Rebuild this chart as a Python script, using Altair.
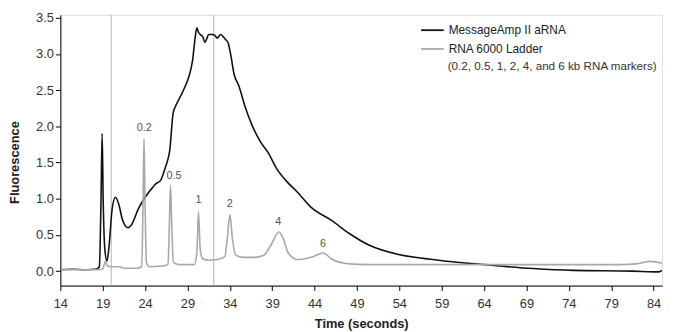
import altair as alt
import pandas as pd

# ---- data ----
arna_t = [14.0, 15.5, 17.0, 18.3, 18.6, 18.8, 18.93, 19.05, 19.25, 19.5, 19.75, 20.1, 20.5, 20.9,
          21.3, 21.7, 22.0, 22.4, 23.2, 24.0, 24.5, 25.3, 25.8, 26.3, 26.7, 26.9, 27.3, 27.6,
          28.2, 28.6, 29.2, 29.6, 29.9, 30.1, 30.3, 30.5, 30.8, 31.05, 31.3, 31.5, 31.95, 32.2,
          32.5, 32.9, 33.2, 33.5, 33.8, 34.1, 34.5, 35.06, 35.8, 36.6, 37.6, 38.5, 39.5, 40.7,
          41.9, 43.6, 46.0, 48.1, 50.4, 53.9, 56.5, 59.3, 64.0, 69.8, 74.5, 81.5, 84.6, 85.0]
arna_v = [0.02, 0.025, 0.02, 0.03, 0.06, 1.0, 1.90, 1.0, 0.3, 0.14, 0.35, 0.85, 1.02, 0.92,
          0.72, 0.62, 0.60, 0.64, 0.86, 1.02, 1.10, 1.21, 1.25, 1.40, 1.55, 1.66, 2.18, 2.28,
          2.42, 2.52, 2.70, 2.91, 3.22, 3.36, 3.30, 3.27, 3.24, 3.16, 3.22, 3.27, 3.27, 3.26,
          3.22, 3.27, 3.24, 3.20, 3.15, 2.99, 2.72, 2.56, 2.27, 2.02, 1.79, 1.64, 1.42, 1.24,
          1.10, 0.88, 0.70, 0.52, 0.36, 0.23, 0.18, 0.14, 0.09, 0.035, 0.01, 0.0, -0.01, 0.01]

ladder_t = [14.0, 16.0, 18.5, 19.0, 19.2, 19.35, 19.5, 20.0, 21.0, 21.5, 23.0, 23.6, 23.75, 23.87,
            24.0, 24.15, 24.5, 26.0, 26.7, 26.85, 27.0, 27.15, 27.35, 28.0, 29.8, 30.1, 30.3,
            30.5, 30.8, 31.5, 32.5, 33.4, 33.7, 34.0, 34.3, 34.7, 35.5, 36.8, 38.0, 38.8, 39.8,
            40.3, 40.9, 42.0, 43.8, 45.0, 46.1, 48.1, 50.4, 60.0, 70.0, 80.0, 81.9, 83.6, 85.0]
ladder_v = [0.02, 0.02, 0.02, 0.03, 0.10, 0.14, 0.08, 0.06, 0.06, 0.04, 0.04, 0.06, 0.9, 1.83,
            0.9, 0.12, 0.06, 0.07, 0.09, 0.6, 1.19, 0.6, 0.12, 0.09, 0.09, 0.25, 0.82,
            0.3, 0.17, 0.15, 0.16, 0.2, 0.45, 0.78, 0.45, 0.22, 0.19, 0.19, 0.22, 0.35, 0.54,
            0.45, 0.25, 0.16, 0.20, 0.25, 0.16, 0.10, 0.09, 0.09, 0.09, 0.09, 0.10, 0.135, 0.11]

marker_t = [23.9, 27.4, 30.3, 34.0, 39.7, 45.0]
marker_v = [1.97, 1.32, 0.98, 0.92, 0.68, 0.37]
marker_text = ["0.2", "0.5", "1", "2", "4", "6"]

vline_t = [20.0, 32.1]

x_ticks = [14, 19, 24, 29, 34, 39, 44, 49, 54, 59, 64, 69, 74, 79, 84]
y_ticks = [0.0, 0.5, 1.0, 1.5, 2.0, 2.5, 3.0, 3.5]

series_names = ["MessageAmp II aRNA", "RNA 6000 Ladder"]
series_colors = ["#111111", "#a8a8a8"]
note_text = "(0.2, 0.5, 1, 2, 4, and 6 kb RNA markers)"

FONT = "Liberation Sans"

# ---- tables ----
lines_df = pd.concat([
    pd.DataFrame({"t": arna_t, "v": arna_v, "series": series_names[0], "o": range(len(arna_t))}),
    pd.DataFrame({"t": ladder_t, "v": ladder_v, "series": series_names[1], "o": range(len(ladder_t))}),
])
markers_df = pd.DataFrame({"t": marker_t, "v": marker_v, "label": marker_text})
vlines_df = pd.DataFrame({"t": vline_t})

x_scale = alt.Scale(domain=[14, 85], nice=False, zero=False)
y_scale = alt.Scale(domain=[-0.2, 3.54], nice=False, zero=False)

x_axis = alt.Axis(values=x_ticks, title="Time (seconds)", grid=False, format="d",
                  labelFontSize=13, labelColor="#333333", labelFont=FONT, labelOverlap=False,
                  tickColor="#000000", domainColor="#000000", tickSize=5, labelPadding=7,
                  titleFont=FONT, titleFontSize=13, titleFontWeight="bold", titleColor="#222222",
                  titlePadding=7, labelFlush=False)
y_axis = alt.Axis(values=y_ticks, title="Fluorescence", grid=False, format=".1f",
                  labelFontSize=13, labelColor="#333333", labelFont=FONT, labelOverlap=False,
                  tickColor="#000000", domainColor="#000000", tickSize=5, labelPadding=2,
                  titleFont=FONT, titleFontSize=13, titleFontWeight="bold", titleColor="#222222",
                  titleX=-46, titleY=149, titleBaseline="middle", titleAngle=-90)

vlines = alt.Chart(vlines_df).mark_rule(color="#b5b5b5", strokeWidth=1).encode(
    x=alt.X("t:Q", scale=x_scale, axis=x_axis)
)

lines = alt.Chart(lines_df).mark_line(interpolate="monotone", strokeWidth=1.6, clip=True).encode(
    x=alt.X("t:Q", scale=x_scale, axis=x_axis),
    y=alt.Y("v:Q", scale=y_scale, axis=y_axis),
    order="o:Q",
    color=alt.Color("series:N",
                    scale=alt.Scale(domain=series_names, range=series_colors),
                    legend=alt.Legend(orient="none", legendX=364, legendY=3, title=None,
                                      symbolType="stroke", symbolSize=529, symbolStrokeWidth=1.8,
                                      labelFont=FONT, labelFontSize=12, labelColor="#222222",
                                      labelOffset=4, rowPadding=-5)),
)

labels = alt.Chart(markers_df).mark_text(font=FONT, fontSize=11, color="#555555",
                                         baseline="middle", align="center").encode(
    x=alt.X("t:Q", scale=x_scale, axis=x_axis),
    y=alt.Y("v:Q", scale=y_scale, axis=y_axis),
    text="label:N",
)

note = alt.Chart(pd.DataFrame({"txt": [note_text]})).mark_text(
    font=FONT, fontSize=11.8, color="#333333", align="left", baseline="middle"
).encode(x=alt.value(392), y=alt.value(52), text="txt:N")

chart = alt.layer(vlines, lines, labels, note).properties(
    width=609, height=274,
    autosize=alt.AutoSizeParams(type="none"),
    padding={"left": 53, "top": 5, "right": 6, "bottom": 44},
).configure_view(stroke=None).configure(background="white")

chart.save("out.html", embed_options={"renderer": "svg", "actions": False})
